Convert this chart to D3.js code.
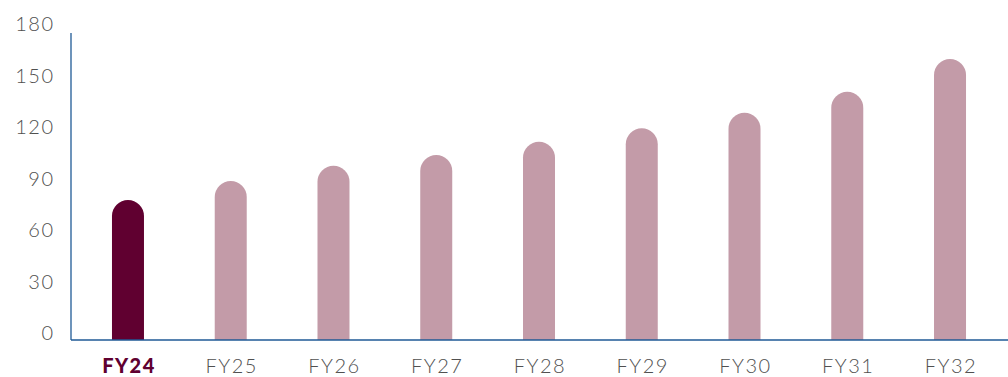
<!DOCTYPE html>
<html>
<head>
<meta charset="utf-8">
<script src="https://cdn.jsdelivr.net/npm/d3@7"></script>
<style>
  body { margin: 0; background: #fff; }
  svg { display: block; font-family: Lato, "Noto Sans", sans-serif; }
</style>
</head>
<body>
<svg width="1008" height="377"></svg>
<script>
const years = ['FY24', 'FY25', 'FY26', 'FY27', 'FY28', 'FY29', 'FY30', 'FY31', 'FY32'];
const values = [81.5, 92.6, 101.5, 107.8, 115.5, 123.3, 132.4, 144.6, 163.7];
const yTicks = [0, 30, 60, 90, 120, 150, 180];

const svg = d3.select('svg');
const base = 340;

const x = d3.scaleBand()
    .domain(years)
    .range([76.6, 1001.4])
    .paddingInner(0.69)
    .paddingOuter(0.345);

const y = d3.scaleLinear()
    .domain([0, 180])
    .range([base, 31]);

// bars with round tops
const bw = 32;
svg.selectAll('path.bar')
    .data(years)
    .join('path')
    .attr('class', 'bar')
    .attr('fill', (d, i) => i === 0 ? '#600030' : '#c39ba8')
    .attr('d', (d, i) => {
        const cx = x(d) + x.bandwidth() / 2;
        const x0 = cx - bw / 2, r = bw / 2;
        const top = y(values[i]);
        return `M${x0},${base} V${top + r} A${r},${r} 0 0 1 ${x0 + bw},${top + r} V${base} Z`;
    });

// axis lines
svg.append('line')
    .attr('x1', 71).attr('x2', 71)
    .attr('y1', 33).attr('y2', base)
    .attr('stroke', '#1f5a96').attr('stroke-width', 1.3);
svg.append('line')
    .attr('x1', 71).attr('x2', 1008)
    .attr('y1', base).attr('y2', base)
    .attr('stroke', '#1f5a96').attr('stroke-width', 1.5);

// y labels
svg.selectAll('text.ylab')
    .data(yTicks)
    .join('text')
    .attr('class', 'ylab')
    .attr('x', 54.5)
    .attr('y', d => y(d))
    .attr('text-anchor', 'end')
    .attr('font-size', 20)
    .attr('font-weight', 300)
    .attr('letter-spacing', 1.5)
    .attr('fill', '#505050')
    .text(d => d);

// x labels
svg.selectAll('text.xlab')
    .data(years)
    .join('text')
    .attr('class', 'xlab')
    .attr('x', d => x(d) + x.bandwidth() / 2 + 1)
    .attr('y', 373)
    .attr('text-anchor', 'middle')
    .attr('font-size', 20)
    .attr('font-weight', (d, i) => i === 0 ? 900 : 300)
    .attr('letter-spacing', 1.5)
    .attr('fill', (d, i) => i === 0 ? '#600030' : '#505050')
    .text(d => d);
</script>
</body>
</html>
